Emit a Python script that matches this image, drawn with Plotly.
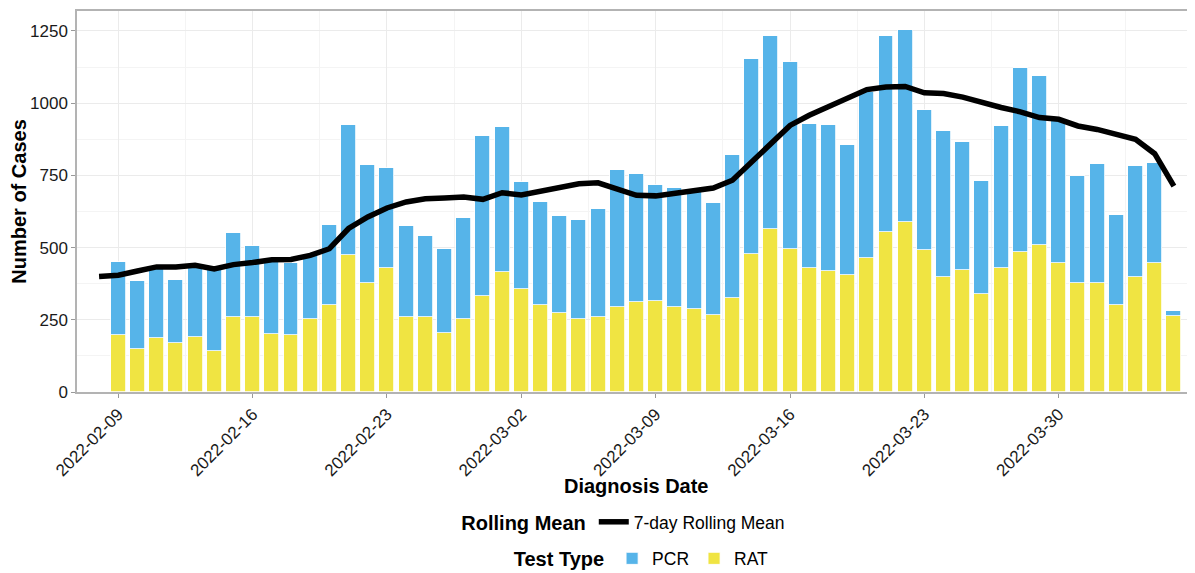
import pandas as pd
import plotly.graph_objects as go

# Dates of the bars (daily, 2022-02-09 .. 2022-04-05)
bar_dates = pd.date_range("2022-02-09", "2022-04-05", freq="D")
# Dates of the rolling-mean line (starts one day earlier)
line_dates = pd.date_range("2022-02-08", "2022-04-05", freq="D")

rat = [196, 150, 187, 170, 189, 142, 261, 260, 202, 198, 252, 300, 475, 379,
       428, 261, 261, 205, 254, 334, 417, 358, 302, 272, 254, 261, 293, 312,
       316, 293, 286, 265, 327, 479, 563, 496, 429, 420, 405, 465, 553, 588,
       493, 399, 424, 340, 429, 485, 509, 447, 379, 376, 300, 397, 445, 264]

pcr = [254, 235, 246, 218, 244, 286, 291, 246, 256, 250, 218, 279, 451, 406,
       346, 314, 279, 290, 350, 551, 499, 370, 355, 337, 342, 374, 474, 444,
       402, 413, 414, 389, 493, 673, 670, 647, 498, 505, 450, 575, 678, 665,
       485, 505, 443, 390, 493, 636, 585, 493, 368, 412, 312, 385, 347, 16]

rolling_mean = [400, 404, 419, 433, 433, 439, 426, 441, 448, 458, 459, 473,
                496, 566, 606, 637, 658, 669, 672, 675, 667, 690, 682, 696,
                706, 721, 724, 704, 681, 679, 687, 698, 706, 733, 796, 860,
                923, 958, 989, 1019, 1047, 1056, 1058, 1036, 1033, 1021, 1002,
                985, 970, 950, 944, 921, 909, 892, 875, 825, 713]

tick_labels = ["2022-02-09", "2022-02-16", "2022-02-23", "2022-03-02",
               "2022-03-09", "2022-03-16", "2022-03-23", "2022-03-30"]

DAY = 86400000
FONT = "Liberation Sans, Arial, sans-serif"
PCR_COLOR = "#56B4E9"
RAT_COLOR = "#F0E442"

fig = go.Figure()
fig.add_trace(go.Bar(
    x=bar_dates, y=rat, name="RAT", marker=dict(color=RAT_COLOR, line=dict(color="white", width=0.8)),
    width=0.78 * DAY, legend="legend2", legendrank=2, showlegend=True))
fig.add_trace(go.Bar(
    x=bar_dates, y=pcr, name="PCR", marker=dict(color=PCR_COLOR, line=dict(color="white", width=0.8)),
    width=0.78 * DAY, legend="legend2", legendrank=1, showlegend=True))
fig.add_trace(go.Scatter(
    x=line_dates, y=rolling_mean, mode="lines", name="7-day Rolling Mean",
    line=dict(color="black", width=5.5), legend="legend", showlegend=True))

x0 = pd.Timestamp("2022-02-09")
fig.update_layout(
    width=1187, height=565,
    margin=dict(l=69, r=0, t=3, b=181, autoexpand=False),
    barmode="stack",
    bargap=0,
    showlegend=True,
    paper_bgcolor="white",
    plot_bgcolor="white",
    font=dict(family=FONT, color="black"),
    legend=dict(
        title=dict(text="<b>Rolling Mean</b>", font=dict(size=20, family=FONT)),
        orientation="h", x=0.49, xanchor="center", y=-0.341, yanchor="middle",
        font=dict(size=17.5, family=FONT), bgcolor="rgba(0,0,0,0)", traceorder="normal"),
    legend2=dict(
        title=dict(text="<b>Test Type</b>", font=dict(size=20, family=FONT)),
        orientation="h", x=0.506, xanchor="center", y=-0.437, yanchor="middle",
        font=dict(size=17.5, family=FONT), bgcolor="rgba(0,0,0,0)", traceorder="normal"),
    xaxis=dict(
        type="date",
        automargin=False,
        range=[x0 - pd.Timedelta(hours=2.15 * 24), x0 + pd.Timedelta(hours=56.1 * 24)],
        tickmode="array",
        tickvals=[pd.Timestamp(t) for t in tick_labels],
        ticktext=tick_labels,
        tickangle=-45,
        tickfont=dict(size=17, color="#1a1a1a"),
        ticks="outside", ticklen=4, tickcolor="#999999",
        showgrid=True, gridcolor="#ebebeb", gridwidth=1,
        minor=dict(showgrid=True, gridcolor="#f4f4f4", gridwidth=1,
                   tickmode="array",
                   tickvals=[pd.Timestamp(t) + pd.Timedelta(hours=84) for t in tick_labels]),
        showline=True, linecolor="#b3b3b3", linewidth=1.5, mirror=True,
        zeroline=False,
    ),
    yaxis=dict(
        automargin=False,
        range=[0, 1319],
        tickvals=[0, 250, 500, 750, 1000, 1250],
        tickfont=dict(size=17, color="#1a1a1a"),
        ticks="outside", ticklen=4, tickcolor="#999999",
        showgrid=True, gridcolor="#ebebeb", gridwidth=1,
        minor=dict(showgrid=True, gridcolor="#f4f4f4", gridwidth=1,
                   tickmode="array", tickvals=[125, 375, 625, 875, 1125]),
        showline=True, linecolor="#b3b3b3", linewidth=1.5, mirror=True,
        zeroline=False,
        title=dict(text="<b>Number of Cases</b>", font=dict(size=20), standoff=13),
    ),
    annotations=[dict(
        text="<b>Diagnosis Date</b>", xref="paper", yref="paper",
        x=0.5, y=-0.2467, xanchor="center", yanchor="middle",
        showarrow=False, font=dict(size=20, family=FONT, color="black"))],
)

fig.write_html("out.html")
